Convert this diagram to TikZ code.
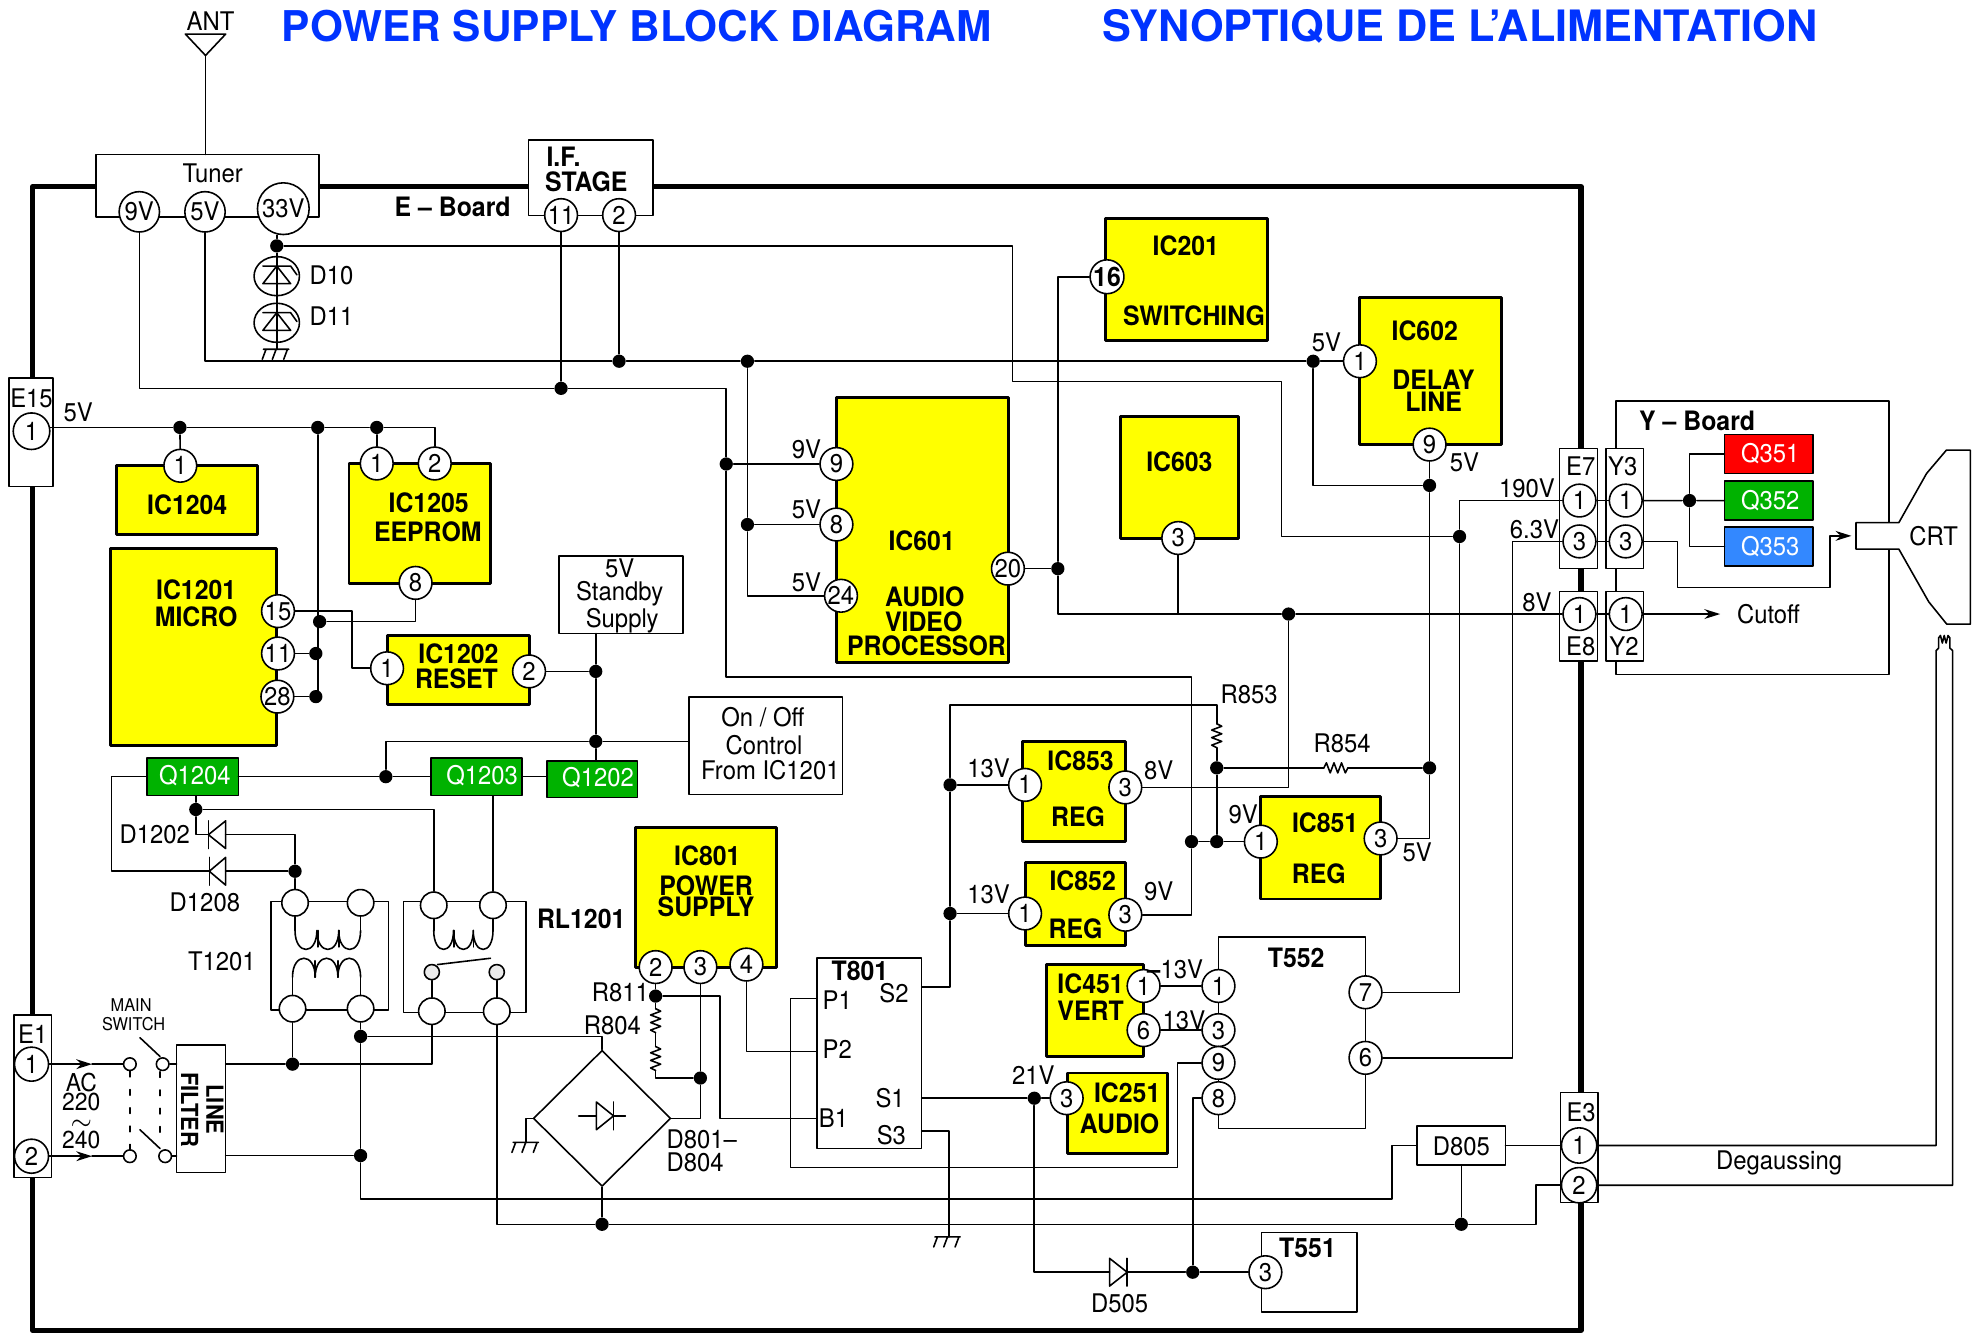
\documentclass[tikz,border=0pt]{standalone}
\usepackage{fontspec}
\setmainfont[FakeStretch=0.93]{TeX Gyre Heros}
\newfontfamily\ttlfont{TeX Gyre Heros}
\usetikzlibrary{shapes.geometric,arrows.meta}
\definecolor{icyellow}{RGB}{255,255,0}
\definecolor{qgreen}{RGB}{0,178,0}
\definecolor{qred}{RGB}{255,0,0}
\definecolor{qblue}{RGB}{51,136,255}
\definecolor{titleblue}{RGB}{0,51,255}
\def\uu{0.012608cm}
\def\tightlines{\lineskiplimit-20pt\relax}
\begin{document}
\begin{tikzpicture}[x=\uu,y=-\uu,>={Stealth[length=4.5pt,width=2.8pt]},line join=round,line cap=round,line width=0.45pt,
	font=\fontsize{7.3}{8}\selectfont,
	sz/.style 2 args={minimum width=#1*\uu,minimum height=#2*\uu},
	icbox/.style={draw,fill=icyellow,line width=0.85pt,anchor=north west,inner sep=0,outer sep=0},
	plainbox/.style={draw,fill=white,anchor=north west,inner sep=0,outer sep=0},
	qbox/.style={draw,anchor=north west,inner sep=0,outer sep=0},
	pinc/.style={circle,draw,fill=white,inner sep=0,minimum size=26*\uu},
	swc/.style={circle,draw,fill=white,inner sep=0,minimum size=10*\uu},
	tpin/.style={circle,draw,fill=white,inner sep=0,minimum size=21*\uu},
	jdot/.style={circle,fill=black,inner sep=0,minimum size=10.5*\uu},
	lab/.style={inner sep=0},
	blab/.style={inner sep=0,font=\fontsize{7.6}{8}\selectfont\bfseries},
	wlab/.style={inner sep=0,text=white},
	ttl/.style={inner sep=0,text=titleblue,font=\ttlfont\fontsize{12.05}{14}\selectfont\bfseries}]
	\def\coil(#1,#2,#3,#4){\draw (#1,#2) .. controls (#1,#4) and ({#1+#3},#4) .. ({#1+#3},#2) .. controls ({#1+#3},#4) and ({#1+2*#3},#4) .. ({#1+2*#3},#2) .. controls ({#1+2*#3},#4) and ({#1+3*#3},#4) .. ({#1+3*#3},#2);}
	\def\resv(#1,#2){\draw (#1,#2) -- ++(4,2) -- ++(-8,3) -- ++(8,3) -- ++(-8,3) -- ++(8,3) -- ++(-8,3) -- ++(4,2);}
	\def\resh(#1,#2){\draw (#1,#2) -- ++(2,-4) -- ++(3,8) -- ++(3,-8) -- ++(3,8) -- ++(3,-8) -- ++(3,8) -- ++(2,-4);}
	\def\gnd(#1,#2){\draw ({#1-10},#2) -- ({#1+10},#2) (#1-8,#2) -- ++(-3,8) (#1,#2) -- ++(-3,8) (#1+9,#2) -- ++(-3,8);}
	\def\diode(#1,#2,#3){\draw[fill=white] (#1,{#3-11}) -- (#1,{#3+11}) -- (#2,#3) -- cycle; \draw (#2,{#3-11}) -- (#2,{#3+11});}
	\def\zener(#1,#2){\draw ({#1-11},#2) -- ({#1+11},#2) -- ++(5,7); \draw (#1,#2) -- ({#1-11},{#2+14}) -- ({#1+11},{#2+14}) -- cycle;}
	\useasboundingbox (0,0) rectangle (1568,1058);
	% boards
	\draw[line width=1.5pt] (26,148) rectangle (1254,1055);
	\draw (1281.5,318) rectangle (1498,535);
	\node[ttl] (title1) at (505,21) {POWER SUPPLY BLOCK DIAGRAM};
	\node[ttl,font=\ttlfont\fontsize{12.3}{14}\selectfont\bfseries] (title2) at (1158,21) {SYNOPTIQUE DE L’ALIMENTATION};
	\node[blab] (eboard) at (359,164) {E – Board};
	\node[blab] (yboard) at (1346,334) {Y – Board};
	% antenna and tuner
	\node[lab] (antlbl) at (167,17) {ANT};
	\coordinate (anttip) at (163,44);
	\draw (147,27) -- (179,27) -- (anttip) -- cycle;
	\node[plainbox,sz={177}{49.5}] (tuner) at (76,122.5) {};
	\node[lab] (tunerlbl) at (168.7,137.5) {Tuner};
	\node[pinc,minimum size=32*\uu] (p9V) at (110.5,168) {9V};
	\node[pinc,minimum size=32*\uu] (p5V) at (162.6,168) {5V};
	\node[pinc,minimum size=41*\uu] (p33V) at (224.7,165.5) {33V};
	\node[plainbox,sz={99}{60}] (ifstage) at (419,111) {};
	\node[blab] (iflbla) at (447,124) {I.F.};
	\node[blab] (iflblb) at (465,144) {STAGE};
	\node[pinc] (pif11) at (445,170.6) {11};
	\node[pinc] (pif2) at (491,170.6) {2};
	\node[jdot] (dot33) at (219.5,195) {};
	\node[ellipse,draw,inner sep=0,minimum width=36*\uu,minimum height=31*\uu] (D10c) at (219.5,219) {};
	\node[ellipse,draw,inner sep=0,minimum width=36*\uu,minimum height=31*\uu] (D11c) at (219.5,256) {};
	\node[lab] (D10lbl) at (263,218) {D10};
	\node[lab] (D11lbl) at (263,251) {D11};
	\coordinate (gndD11) at (219.5,277);
	% ICs on the micro side
	\node[plainbox,sz={34.7}{86.3}] (E15) at (7.3,299.7) {};
	\node[lab] (E15lbl) at (25,316) {E15};
	\node[pinc,minimum size=29*\uu] (E15a) at (25,342) {1};
	\node[lab] (l5Va) at (62,327) {5V};
	\node[icbox,sz={112}{55}] (IC1204) at (92.5,369) {};
	\node[blab] (IC1204lbl) at (148.5,400) {IC1204};
	\node[pinc] (p1204a) at (143,369.4) {1};
	\node[icbox,sz={112}{95}] (IC1205) at (276.8,367.6) {};
	\node[blab] (IC1205lbl) at (340,398.5) {IC1205};
	\node[blab] (IC1205lblb) at (339.3,422) {EEPROM};
	\node[pinc] (p1205a) at (298.8,367.6) {1};
	\node[pinc] (p1205b) at (344.8,367.6) {2};
	\node[pinc] (p1205h) at (329.6,462.3) {8};
	\node[icbox,sz={132}{156}] (IC1201) at (87.6,435) {};
	\node[blab] (IC1201lbl) at (155.6,467.6) {IC1201};
	\node[blab] (IC1201lblb) at (155.6,489.3) {MICRO};
	\node[pinc] (p15) at (220.5,484.7) {15};
	\node[pinc] (p11) at (220.5,518.3) {11};
	\node[pinc] (p28) at (220,552.5) {28};
	\node[icbox,sz={112.6}{54.5}] (IC1202) at (307,504.3) {};
	\node[blab] (IC1202lbl) at (363.6,518.4) {IC1202};
	\node[blab] (IC1202lblb) at (362,538) {RESET};
	\node[pinc] (p1202a) at (307,530) {1};
	\node[pinc] (p1202b) at (419.6,532.5) {2};
	\node[plainbox,sz={98.5}{61.5}] (standby) at (443.3,441) {};
	\node[lab] (sblbla) at (491.5,450.4) {5V};
	\node[lab] (sblblb) at (491.5,471) {Standby};
	\node[lab] (sblblc) at (493.5,492) {Supply};
	\node[plainbox,sz={122}{77}] (onoff) at (546.3,553) {};
	\node[lab] (oolbla) at (605,569) {On / Off};
	\node[lab] (oolblb) at (606,591) {Control};
	\node[lab] (oolblc) at (611,611) {From IC1201};
	\node[qbox,fill=qgreen,sz={72.5}{30}] (Q1204) at (116.5,601) {};
	\node[wlab] (Q1204lbl) at (154.6,615.5) {Q1204};
	\node[qbox,fill=qgreen,sz={72.3}{30}] (Q1203) at (341.7,601) {};
	\node[wlab] (Q1203lbl) at (382.4,615.5) {Q1203};
	\node[qbox,fill=qgreen,sz={71.6}{29}] (Q1202) at (434,603.5) {};
	\node[wlab] (Q1202lbl) at (474.3,617) {Q1202};
	% junctions, upper left
	\node[jdot] (dotE15a) at (142.7,339) {};
	\node[jdot] (dotE15b) at (252,339) {};
	\node[jdot] (dotE15c) at (298.8,339) {};
	\node[jdot] (dot8) at (253.5,493) {};
	\node[jdot] (dot11) at (250.5,518.3) {};
	\node[jdot] (dot28) at (250.5,552.5) {};
	\node[jdot] (dotres) at (472.5,532.5) {};
	\node[jdot] (dotsb) at (472.5,588) {};
	\node[jdot] (dotq) at (306,616) {};
	\node[jdot] (dotif11) at (445,308) {};
	\node[jdot] (dotif2) at (491,286.5) {};
	% relay and transformer
	\node[lab] (D1202lbl) at (122.8,662) {D1202};
	\node[lab] (D1208lbl) at (162.5,715.5) {D1208};
	\node[lab] (T1201lbl) at (176,762.7) {T1201};
	\node[blab] (RL1201lbl) at (461,729) {RL1201};
	\draw (215,715) rectangle (308,801);
	\draw (320,715) rectangle (417,803);
	\node[jdot] (dotQa) at (155.3,642) {};
	\node[jdot] (dotT) at (234,691) {};
	\coordinate (d1202L) at (165.3,662);
	\coordinate (d1202R) at (179,662);
	\coordinate (d1208L) at (166,691);
	\coordinate (d1208R) at (179,691);
	\node[tpin] (T1a) at (234,716) {};
	\node[tpin] (T1b) at (286,716) {};
	\node[tpin] (T1c) at (232,800) {};
	\node[tpin] (T1d) at (286,800) {};
	\node[tpin] (RLa) at (344,718) {};
	\node[tpin] (RLb) at (391,718) {};
	\node[tpin] (RLc) at (342.5,802) {};
	\node[tpin] (RLd) at (394,802) {};
	\node[circle,draw,fill=black!8,inner sep=0,minimum size=12*\uu] (rlc) at (342.5,771) {};
	\node[circle,draw,fill=black!8,inner sep=0,minimum size=12*\uu] (rld) at (394,771) {};
	\coil(234,738,17.33,758)
	\coil(232,775,18,755)
	\coil(344,738,15.67,758)
	\draw (252,738) -- (252,751) (269,738) -- (269,751);
	% mains input
	\node[plainbox,sz={30}{129}] (E1) at (11,805) {};
	\node[lab] (E1lbl) at (26,820) {E1};
	\node[pinc,minimum size=27*\uu] (E1a) at (25,844) {1};
	\node[pinc,minimum size=27*\uu] (E1b) at (25,917) {2};
	\coordinate (ar1) at (73,844);
	\coordinate (ar2) at (73,917);
	\node[lab,align=center,font=\fontsize{7}{5.4}\selectfont\tightlines] (AClbl) at (64.5,881) {AC\\220\\$\sim$\\240};
	\node[lab,font=\fontsize{5}{6}\selectfont] (mainlbl) at (104,797) {MAIN};
	\node[lab,font=\fontsize{5}{6}\selectfont] (switchlbl) at (106,812) {SWITCH};
	\node[swc] (swa) at (103,844) {};
	\node[swc] (swb) at (129,844) {};
	\node[swc] (swc1) at (103,917) {};
	\node[swc] (swd) at (131,917) {};
	\draw (111,823) -- (127,838) (111,896) -- (127,911);
	\draw[dash pattern=on 1.6pt off 3.6pt] (swa) -- (swc1);
	\draw[dash pattern=on 1.6pt off 3.6pt] (127,850) -- (127,908);
	\node[plainbox,sz={39}{101}] (LF) at (140,829) {};
	\node[blab,rotate=-90,font=\fontsize{6.7}{7}\selectfont\bfseries] (LFlbla) at (170.5,880) {LINE};
	\node[blab,rotate=-90,font=\fontsize{6.7}{7}\selectfont\bfseries] (LFlblb) at (150.4,880) {FILTER};
	\node[jdot] (dotFa) at (232,844) {};
	\node[jdot] (dotFb) at (286,916.5) {};
	\node[jdot] (dotTd) at (286,822) {};
	% bridge
	\node[diamond,draw,aspect=1,inner sep=0,minimum width=109*\uu,minimum height=108*\uu] (bridge) at (477.5,887) {};
	\draw (459,885) -- (496,885);
	\diode(473,486.6,885)
	\coordinate (gndB) at (417,906);
	\gnd(417,906)
	\node[lab,anchor=west] (D801lbl) at (528,904) {D801–};
	\node[lab,anchor=west] (D804lbl) at (528,922) {D804};
	\node[jdot] (dotBr) at (477.5,971) {};
	% power supply
	\node[icbox,sz={112}{111}] (IC801) at (504,656) {};
	\node[blab] (IC801lbl) at (561,679) {IC801};
	\node[blab,align=center,font=\fontsize{7.6}{6}\selectfont\bfseries\tightlines] (IC801lblb) at (560,711) {POWER\\SUPPLY};
	\node[pinc] (p801a) at (520,767) {2};
	\node[pinc] (p801b) at (555.5,767) {3};
	\node[pinc] (p801c) at (592,765) {4};
	\node[jdot] (dotRa) at (520,790) {};
	\node[jdot] (dotRb) at (555.5,855) {};
	\node[lab] (R811lbl) at (492,787) {R811};
	\node[lab] (R804lbl) at (485.7,813) {R804};
	\resv(520,800)
	\resv(520,830)
	\node[plainbox,sz={83}{151}] (T801) at (648,760) {};
	\node[blab] (T801lbl) at (682,770) {T801};
	\node[lab] (P1lbl) at (664,793) {P1};
	\node[lab] (S2lbl) at (709,788) {S2};
	\node[lab] (P2lbl) at (664,832) {P2};
	\node[lab] (S1lbl) at (706,871) {S1};
	\node[lab] (B1lbl) at (661,887) {B1};
	\node[lab] (S3lbl) at (707,900) {S3};
	\coordinate (t8p1) at (648,792);
	\coordinate (t8p2) at (648,834);
	\coordinate (t8b1) at (648,887);
	\coordinate (t8s2) at (731,783);
	\coordinate (t8s1) at (731,871);
	\coordinate (t8s3) at (731,897);
	\coordinate (gndS) at (752.5,981);
	\gnd(751.5,981)
	% audio video section
	\node[icbox,sz={136.4}{210.5}] (IC601) at (663.4,315) {};
	\node[blab] (IC601lbl) at (731,429) {IC601};
	\node[blab] (IC601lblb) at (733.5,473.5) {AUDIO};
	\node[blab] (IC601lblc) at (732.6,493) {VIDEO};
	\node[blab] (IC601lbld) at (734.8,512.4) {PROCESSOR};
	\node[pinc] (p601i) at (663.4,368) {9};
	\node[pinc] (p601h) at (663.4,416) {8};
	\node[pinc] (p601x) at (667,472.5) {24};
	\node[pinc] (p601t) at (799.4,451) {20};
	\node[lab] (l9Va) at (639.6,356.3) {9V};
	\node[lab] (l5Vb) at (639.6,404) {5V};
	\node[lab] (l5Vc) at (639.6,461.6) {5V};
	\node[jdot] (dotV9) at (576,368) {};
	\node[jdot] (dotV5a) at (592.8,286.5) {};
	\node[jdot] (dotV5b) at (592.8,416) {};
	\node[icbox,sz={128.5}{96.8}] (IC201) at (877,173) {};
	\node[blab] (IC201lbl) at (940.5,195) {IC201};
	\node[blab] (IC201lblb) at (947,250.5) {SWITCHING};
	\node[pinc,font=\fontsize{7.6}{8}\selectfont\bfseries] (p201) at (878,219.5) {16};
	\node[icbox,sz={112.4}{116.6}] (IC602) at (1078.6,236) {};
	\node[blab] (IC602lbl) at (1130,262) {IC602};
	\node[blab,align=center,font=\fontsize{7.6}{6.4}\selectfont\bfseries\tightlines] (IC602lblb) at (1137,310) {DELAY\\LINE};
	\node[pinc] (p602a) at (1078.6,286.5) {1};
	\node[pinc] (p602i) at (1133.8,352.6) {9};
	\node[lab] (l5Vd) at (1052,271.7) {5V};
	\node[lab] (l5Ve) at (1161.5,366.4) {5V};
	\node[icbox,sz={93.5}{96}] (IC603) at (889,330.7) {};
	\node[blab] (IC603lbl) at (935.4,366.4) {IC603};
	\node[pinc] (p603) at (934.5,426.7) {3};
	\node[jdot] (dotAV) at (839,451) {};
	\node[jdot] (dot8V) at (1022,487) {};
	\node[jdot] (dotDL) at (1041.5,286.5) {};
	\node[jdot] (dotDLb) at (1133.8,385) {};
	\node[jdot] (dotHV) at (1157.6,425.5) {};
	% regulators
	\node[icbox,sz={82}{79.5}] (IC853) at (810.6,587.8) {};
	\node[blab] (IC853lbl) at (857,603.4) {IC853};
	\node[blab] (IC853lblb) at (855,648) {REG};
	\node[pinc] (p853a) at (813,622.5) {1};
	\node[pinc] (p853c) at (892.5,624.5) {3};
	\node[lab] (l13Va) at (784,609.5) {13V};
	\node[lab] (l8Va) at (919,611) {8V};
	\node[icbox,sz={79.7}{66}] (IC852) at (813,684) {};
	\node[blab] (IC852lbl) at (858.7,698.4) {IC852};
	\node[blab] (IC852lblb) at (853,737) {REG};
	\node[pinc] (p852a) at (813,724.5) {1};
	\node[pinc] (p852c) at (892.5,725.5) {3};
	\node[lab] (l13Vb) at (784,709) {13V};
	\node[lab] (l9Vb) at (919,707) {9V};
	\node[icbox,sz={95}{81.6}] (IC851) at (1000,631.4) {};
	\node[blab] (IC851lbl) at (1051,652.6) {IC851};
	\node[blab] (IC851lblb) at (1046,693) {REG};
	\node[pinc] (p851a) at (1000,667.5) {1};
	\node[pinc] (p851c) at (1095,665) {3};
	\node[lab] (l9Vc) at (986,646) {9V};
	\node[lab] (l5Vf) at (1124,676) {5V};
	\node[lab] (R853lbl) at (990.7,551) {R853};
	\node[lab] (R854lbl) at (1064.5,589.6) {R854};
	\node[jdot] (dotRd) at (753.5,622.5) {};
	\node[jdot] (dotRe) at (753.5,724.5) {};
	\node[jdot] (dotRf) at (945,667.5) {};
	\node[jdot] (dotRg) at (965,667.5) {};
	\node[jdot] (dotRh) at (965,609) {};
	\node[jdot] (dotRi) at (1133.8,609) {};
	\resv(965,574)
	\resh(1050,609)
	% deflection
	\node[icbox,sz={77}{73}] (IC451) at (830,765) {};
	\node[blab] (IC451lbl) at (865,780) {IC451};
	\node[blab] (IC451lblb) at (865,802) {VERT};
	\node[pinc] (p451a) at (907,782) {1};
	\node[pinc] (p451f) at (907,817) {6};
	\node[lab] (l13Vc) at (932,768.5) {\textbf{–}13V};
	\node[lab] (l13Vd) at (939,809) {13V};
	\node[icbox,sz={79.5}{64}] (IC251) at (846.6,851) {};
	\node[blab] (IC251lbl) at (894,866.5) {IC251};
	\node[blab] (IC251lblb) at (888,891.6) {AUDIO};
	\node[pinc] (p251) at (846,871) {3};
	\node[lab] (l21V) at (819.5,853) {21V};
	\node[jdot] (dot21) at (820.3,871) {};
	\node[plainbox,sz={116.6}{152}] (T552) at (966.4,743) {};
	\node[blab] (T552lbl) at (1028,760) {T552};
	\node[pinc] (T552a) at (966.4,782) {1};
	\node[pinc] (T552c) at (966.4,817) {3};
	\node[pinc] (T552i) at (966.4,843) {9};
	\node[pinc] (T552h) at (966.4,871) {8};
	\node[pinc] (T552g) at (1083,787) {7};
	\node[pinc] (T552f) at (1083,839) {6};
	\node[plainbox,sz={76}{63}] (T551) at (1000.4,977.5) {};
	\node[blab] (T551lbl) at (1037,989.5) {T551};
	\node[pinc] (T551c) at (1003.6,1009) {3};
	\coordinate (d505L) at (880,1009);
	\coordinate (d505R) at (894,1009);
	\diode(880,894,1009)
	\node[lab] (D505lbl) at (888,1034) {D505};
	\node[jdot] (dotT5) at (946,1009) {};
	% connectors on the board edge
	\node[plainbox,sz={30}{95.4}] (E7) at (1237,355.6) {};
	\node[lab] (E7lbl) at (1253.7,369.6) {E7};
	\node[pinc] (E7a) at (1252.7,397) {1};
	\node[pinc] (E7c) at (1252.7,429.4) {3};
	\node[plainbox,sz={30}{95.4}] (Y3) at (1273.6,355.6) {};
	\node[lab] (Y3lbl) at (1287,370) {Y3};
	\node[pinc] (Y3a) at (1289.4,397) {1};
	\node[pinc] (Y3c) at (1289.4,429.4) {3};
	\node[plainbox,sz={30}{55.4}] (E8) at (1237,469) {};
	\node[lab] (E8lbl) at (1253.7,512.5) {E8};
	\node[pinc] (E8a) at (1252.7,487) {1};
	\node[plainbox,sz={30}{55.4}] (Y2) at (1273.6,469) {};
	\node[lab] (Y2lbl) at (1288,512.5) {Y2};
	\node[pinc] (Y2a) at (1289.4,487) {1};
	\node[lab] (l190V) at (1211,387) {190V};
	\node[lab] (l63V) at (1217,420) {6.3V};
	\node[lab] (l8Vb) at (1219,478) {8V};
	\node[plainbox,sz={30}{87}] (E3) at (1237.5,866.6) {};
	\node[lab] (E3lbl) at (1254,882) {E3};
	\node[pinc,minimum size=28*\uu] (E3a) at (1252.4,908.5) {1};
	\node[pinc,minimum size=28*\uu] (E3b) at (1252.4,940) {2};
	\node[plainbox,sz={70}{31}] (D805) at (1124,893) {};
	\node[lab] (D805lbl) at (1159,909.5) {D805};
	\node[jdot] (dotD805) at (1159,971) {};
	\node[lab] (degaussing) at (1411,922) {Degaussing};
	% Y board
	\node[qbox,fill=qred,sz={70}{31}] (Q351) at (1367.7,344.5) {};
	\node[wlab] (Q351lbl) at (1404,360) {Q351};
	\node[qbox,fill=qgreen,sz={70}{31}] (Q352) at (1367.7,381.5) {};
	\node[wlab] (Q352lbl) at (1404,397) {Q352};
	\node[qbox,fill=qblue,sz={70}{31}] (Q353) at (1367.7,418) {};
	\node[wlab] (Q353lbl) at (1404,433.5) {Q353};
	\node[jdot] (dotY) at (1340,397) {};
	\node[lab] (cutofflbl) at (1402.6,487.4) {Cutoff};
	\coordinate (cutoffarr) at (1364.3,487);
	\node[fill=white,inner sep=0,sz={34}{21}] (neck) at (1489,425) {};
	\draw (1506,435.5) -- (1472,435.5) -- (1472,414.5) -- (1506,414.5) -- (1528,375.5) -- (1543.7,357) -- (1562.7,357) -- (1562.7,495) -- (1544,495) -- (1529.7,477.3) -- (1506,435.5);
	\node[lab] (CRTlbl) at (1533.6,425) {CRT};
	% wires
	\draw (anttip) -- (anttip |- tuner.north);
	\draw (dot33) -- (dot33 |- p33V.south);
	\draw (dot33) -- (gndD11);
	\zener(219.5,211)
	\zener(219.5,248)
	\gnd(219,277)
	\draw (dot33) -- (803,195) -- (803,302.5) -- (1016.5,302.5) -- (1016.5,425.5) -- (dotHV);
	\draw (E7a) -- (1157.6,397) -- (dotHV) -- (1157.6,787) -- (T552g);
	\draw (E7c) -- (1199.7,429.4) -- (1199.7,839) -- (T552f);
	\draw (p5V) -- (162.6,286.5) -- (dotif2) -- (dotV5a) -- (dotDL) -- (p602a);
	\draw (pif2) -- (dotif2);
	\draw (pif11) -- (dotif11);
	\draw (p9V) -- (110.5,308) -- (dotif11) -- (576,308) -- (dotV9) -- (576,537) -- (945,537) -- (dotRf) -- (945,725.5) -- (p852c);
	\draw (dotV9) -- (p601i);
	\draw (dotV5a) -- (dotV5b) -- (592.8,472.5) -- (p601x);
	\draw (dotV5b) -- (p601h);
	\draw (p601t) -- (dotAV);
	\draw (p201) -- (839,219.5) -- (dotAV) -- (839,487) -- (dot8V) -- (E8a);
	\draw (p603) -- (p603 |- dot8V);
	\draw (dot8V) -- (1022,624.5) -- (p853c);
	\draw (dotDL) -- (1041.5,385) -- (dotDLb);
	\draw (p602i) -- (dotDLb) -- (dotRi) -- (1133.8,665) -- (p851c);
	\draw (dotRf) -- (dotRg) -- (p851a);
	\draw (dotRg) -- (dotRh);
	\draw (dotRh) -- (965,593);
	\draw (dotRh) -- (1050,609);
	\draw (1069,609) -- (dotRi);
	\draw (dotRd) -- (p853a);
	\draw (dotRe) -- (p852a);
	% 5V line
	\draw (E15a.east |- dotE15a) -- (dotE15a) -- (dotE15b) -- (dotE15c) -- (344.8,339) -- (p1205b);
	\draw (dotE15a) -- (p1204a);
	\draw (dotE15c) -- (p1205a);
	\draw (dotE15b) -- (dotE15b |- dot28);
	\draw (p15) -- (279,484.7) -- (279,530) -- (p1202a);
	\draw (p1205h) -- (329.6,493) -- (dot8);
	\draw (p11) -- (dot11);
	\draw (p28) -- (dot28);
	\draw (p1202b) -- (dotres);
	\draw (dotres |- standby.south) -- (dotres) -- (dotsb) -- (dotsb |- Q1202.north);
	\draw (dotsb) -- (dotsb -| onoff.west);
	\draw (dotsb) -| (dotq);
	\draw (Q1204.east) -- (dotq) -- (Q1203.west);
	\draw (Q1203.east) -- (Q1203.east -| Q1202.west);
	\draw (Q1204.west) -- (88.5,616) -- (88.5,691) -- (d1208L);
	\draw (dotQa |- Q1204.south) -- (dotQa) -- (155.3,662) -- (d1202L);
	\draw (dotQa) -- (344,642) -- (RLa);
	\draw (RLb |- Q1203.south) -- (RLb);
	\diode(179,165.3,662)
	\diode(179,166,691)
	\draw (d1202R) -| (dotT);
	\draw (d1208R) -- (dotT);
	\draw (dotT) -- (T1a);
	\draw (T1a) -- (234,738);
	\draw (T1b) -- (286,738);
	\draw (T1c) -- (232,775);
	\draw (T1d) -- (286,775);
	\draw (RLa) -- (344,738);
	\draw (RLb) -- (391,738);
	\draw (360,738) -- (360,751) (375.5,738) -- (375.5,751);
	\draw (250,775) -- (250,762) (268,775) -- (268,762);
	\draw (347,765) -- (389,760);
	\draw (rlc) -- (RLc);
	\draw (rld) -- (RLd);
	\draw[->] (E1a) -- (ar1);
	\draw (ar1) -- (swa);
	\draw[->] (E1b) -- (ar2);
	\draw (ar2) -- (swc1);
	\draw (swb) -- (swb -| LF.west);
	\draw (swd) -- (swd -| LF.west);
	\draw (dotFa -| LF.east) -- (dotFa) -- (342.5,844) -- (RLc);
	\draw (dotFb -| LF.east) -- (dotFb);
	\draw (T1c) -- (dotFa);
	\draw (T1d) -- (dotTd) -- (dotFb) -- (286,951) -- (1104,951) -- (1104,908.5) -- (D805);
	\draw (dotTd) -- (477.5,822) -- (bridge.north);
	\draw (RLd) -- (394,971) -- (dotBr) -- (dotD805) -- (1218,971) -- (1218,940) -- (E3b);
	\draw (bridge.south) -- (dotBr);
	\draw (bridge.west) -- (417,887) -- (gndB);
	\draw (D805) -- (dotD805);
	\draw (D805) -- (E3a);
	\draw (E3a) -- (1535.5,908.5) -- (1535.5,516) -- (1537.5,514) -- (1537.5,506) -- (1539,504) -- (1540.5,510) -- (1542,504) -- (1543.5,510) -- (1545,504) -- (1546.5,506) -- (1546.5,514) -- (1548.6,516) -- (1548.6,940) -- (E3b);
	% power supply wires
	\draw (p801a) -- (dotRa) -- (520,800);
	\draw (520,819) -- (520,830);
	\draw (520,849) -- (520,855) -- (dotRb);
	\draw (p801b) -- (dotRb) -- (555.5,887) -- (bridge.east);
	\draw (dotRa) -- (571,790) -- (571,887) -- (t8b1);
	\draw (p801c) -- (592,834) -- (t8p2);
	\draw (t8p1) -- (627,792) -- (627,926) -- (934,926) -- (934,843) -- (T552i);
	\draw (t8s2) -- (753.5,783) -- (dotRe) -- (dotRd) -- (753.5,559) -- (965,559) -- (965,574);
	\draw (t8s1) -- (dot21) -- (p251);
	\draw (t8s3) -- (752.5,897) -- (gndS);
	\draw (dot21) -- (820.3,1009) -- (d505L);
	\draw (d505R) -- (dotT5) -- (T551c);
	\draw (dotT5) -- (946,871) -- (T552h);
	\draw (p451a) -- (T552a);
	\draw (p451f) -- (T552c);
	% Y board wires
	\draw (E7a) -- (Y3a);
	\draw (E7c) -- (Y3c);
	\draw (E8a) -- (Y2a);
	\draw (Y3a) -- (dotY) -- (Q352.west);
	\draw (dotY) |- (Q351.west);
	\draw (dotY) |- (Q353.west);
	\draw[->,shorten >=3*\uu] (Y3c) -- (1330.4,429.4) -- (1330.4,466) -- (1451.6,466) -- (1451.6,425) -- (neck.west);
	\draw[->] (Y2a) -- (cutoffarr);
\end{tikzpicture}
\end{document}
